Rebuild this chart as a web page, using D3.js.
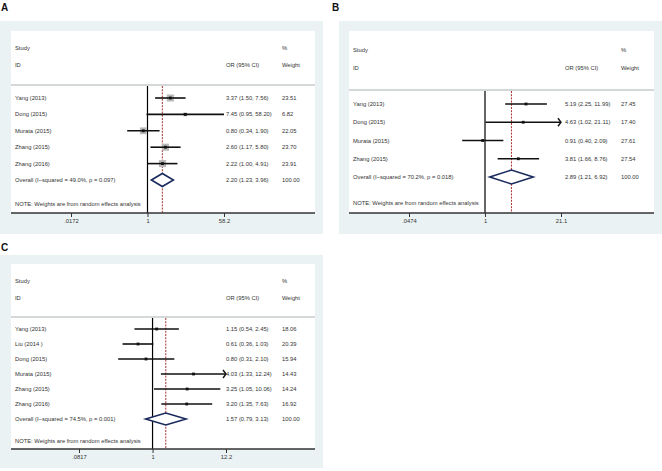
<!DOCTYPE html>
<html><head><meta charset="utf-8">
<script src="https://cdn.jsdelivr.net/npm/d3@7"></script>
<style>body{margin:0;background:#fff}svg{display:block}text{font-family:"Liberation Sans",Arial,sans-serif;fill:#333}</style>
</head><body><svg id="c" width="662" height="471"></svg>
<script>
// Panel A
const studiesA = ["Yang (2013)", "Dong (2015)", "Murata (2015)", "Zhang (2015)", "Zhang (2016)"];
const orA = [3.37, 7.45, 0.80, 2.60, 2.22];
const lowA = [1.50, 0.95, 0.34, 1.17, 1.00];
const highA = [7.56, 58.20, 1.90, 5.80, 4.91];
const weightA = [23.51, 6.82, 22.05, 23.70, 23.91];
const overallA = [2.20, 1.23, 3.96];
const hetA = "Overall  (I\u2212squared = 49.0%, p = 0.097)";
const ticksA = [0.0172, 1, 58.2];
const tickLabelsA = [".0172", "1", "58.2"];
// Panel B
const studiesB = ["Yang (2013)", "Dong (2015)", "Murata (2015)", "Zhang (2015)"];
const orB = [5.19, 4.63, 0.91, 3.81];
const lowB = [2.25, 1.02, 0.40, 1.66];
const highB = [11.99, 21.11, 2.09, 8.76];
const weightB = [27.45, 17.40, 27.61, 27.54];
const overallB = [2.89, 1.21, 6.92];
const hetB = "Overall  (I\u2212squared = 70.2%, p = 0.018)";
const ticksB = [0.0474, 1, 21.1];
const tickLabelsB = [".0474", "1", "21.1"];
// Panel C
const studiesC = ["Yang (2013)", "Liu  (2014 )", "Dong (2015)", "Murata (2015)", "Zhang (2015)", "Zhang (2016)"];
const orC = [1.15, 0.61, 0.80, 4.03, 3.25, 3.20];
const lowC = [0.54, 0.36, 0.31, 1.33, 1.05, 1.35];
const highC = [2.45, 1.03, 2.10, 12.24, 10.06, 7.63];
const weightC = [18.06, 20.39, 15.94, 14.43, 14.24, 16.92];
const overallC = [1.57, 0.79, 3.13];
const hetC = "Overall  (I\u2212squared = 74.5%, p = 0.001)";
const ticksC = [0.0817, 1, 12.2];
const tickLabelsC = [".0817", "1", "12.2"];

const svg = d3.select("#c");
const f2 = d3.format(".2f");
const FS = 5.8;

function panel(cfg) {
  const g = svg.append("g");
  const L = cfg.layout;
  g.append("text").attr("x", L.letterX).attr("y", L.letterY).text(cfg.letter)
    .style("font-size", "10px").style("font-weight", "bold").style("fill", "#111");
  g.append("rect").attr("x", L.bg[0]).attr("y", L.bg[1]).attr("width", L.bg[2]).attr("height", L.bg[3]).attr("fill", "#eaf2f3");
  g.append("rect").attr("x", L.wx0).attr("y", L.wy0).attr("width", L.wx1 - L.wx0).attr("height", L.axisY - L.wy0).attr("fill", "#fff");
  const x = d3.scaleLog().domain([cfg.ticks[0], cfg.ticks[2]]).range([L.x0, L.x1]);
  const n = cfg.studies.length;
  const y = d3.scalePoint().domain(d3.range(n + 1)).range([L.row0, L.row1]);
  const tx = L.wx0 + 4;
  const txt = (xx, yy, s) => g.append("text").attr("x", xx).attr("y", yy).attr("dy", "0.35em").text(s).style("font-size", FS + "px");
  txt(tx, L.studyY, "Study"); txt(tx, L.idY, "ID");
  txt(L.esX, L.idY, "OR (95% CI)");
  txt(L.wX, L.studyY, "%"); txt(L.wX, L.idY, "Weight");
  g.append("line").attr("x1", L.wx0).attr("x2", L.wx1).attr("y1", L.hdrY).attr("y2", L.hdrY).attr("stroke", "#d4d8d8").attr("stroke-width", 2);
  // null line
  g.append("line").attr("x1", x(1)).attr("x2", x(1)).attr("y1", L.hdrY + 1).attr("y2", L.axisY).attr("stroke", "#000").attr("stroke-width", 1.2);
  // overall dashed
  g.append("line").attr("x1", x(cfg.overall[0])).attr("x2", x(cfg.overall[0])).attr("y1", L.hdrY + 1).attr("y2", L.axisY)
    .attr("stroke", "#a01818").attr("stroke-width", 0.9).attr("stroke-dasharray", "2,1.2");
  const maxV = cfg.ticks[2], minV = cfg.ticks[0];
  cfg.studies.forEach((s, i) => {
    const yy = y(i);
    txt(tx, yy, s);
    txt(L.esX, yy, f2(cfg.or[i]) + " (" + f2(cfg.low[i]) + ", " + f2(cfg.high[i]) + ")");
    txt(L.wX, yy, f2(cfg.weight[i]));
    if (cfg.boxes) {
      const side = 1.45 * Math.sqrt(cfg.weight[i]);
      g.append("rect").attr("x", x(cfg.or[i]) - side / 2).attr("y", yy - side / 2).attr("width", side).attr("height", side).attr("fill", "#b8b8b8");
    }
    const hi = Math.min(cfg.high[i], maxV), lo = Math.max(cfg.low[i], minV);
    g.append("line").attr("x1", x(lo)).attr("x2", x(hi)).attr("y1", yy).attr("y2", yy).attr("stroke", "#111").attr("stroke-width", 1.6);
    if (cfg.high[i] > maxV * 1.0001) {
      const ax = x(maxV);
      g.append("path").attr("d", `M${ax - 3},${yy - 4}L${ax},${yy}L${ax - 3},${yy + 4}`).attr("fill", "none").attr("stroke", "#111").attr("stroke-width", 1.4);
    }
    g.append("rect").attr("x", x(cfg.or[i]) - 1.4).attr("y", yy - 1.4).attr("width", 2.8).attr("height", 2.8).attr("fill", "#111");
  });
  const yo = y(n);
  txt(tx, yo, cfg.het);
  txt(L.esX, yo, f2(cfg.overall[0]) + " (" + f2(cfg.overall[1]) + ", " + f2(cfg.overall[2]) + ")");
  txt(L.wX, yo, "100.00");
  const h = L.dh;
  g.append("path").attr("d", `M${x(cfg.overall[1])},${yo}L${x(cfg.overall[0])},${yo - h}L${x(cfg.overall[2])},${yo}L${x(cfg.overall[0])},${yo + h}Z`)
    .attr("fill", "#fff").attr("stroke", "#1a2a5c").attr("stroke-width", 1.6);
  txt(tx, L.noteY, "NOTE: Weights are from random effects analysis");
  // axis
  const ax = d3.axisBottom(x).tickValues(cfg.ticks).tickFormat((d, i) => cfg.tickLabels[i]).tickSize(4).tickPadding(2);
  const ag = g.append("g").attr("transform", `translate(0,${L.axisY})`).call(ax);
  ag.select(".domain").remove();
  ag.selectAll(".tick line").attr("stroke", "#333").attr("stroke-width", 1);
  ag.selectAll(".tick text").style("font-size", FS + "px").style("fill", "#333").style("font-family", '"Liberation Sans",Arial,sans-serif');
  g.append("line").attr("x1", L.wx0).attr("x2", L.wx1).attr("y1", L.axisY).attr("y2", L.axisY).attr("stroke", "#333").attr("stroke-width", 1.5);
}

panel({letter: "A", studies: studiesA, or: orA, low: lowA, high: highA, weight: weightA, overall: overallA, het: hetA, ticks: ticksA, tickLabels: tickLabelsA, boxes: true,
  layout: {letterX: 1, letterY: 11, bg: [0, 21, 323, 213], wx0: 11, wy0: 31, wx1: 315, axisY: 213, x0: 71, x1: 224, row0: 98, row1: 180,
    hdrY: 85, studyY: 48, idY: 65, noteY: 204, esX: 226, wX: 282, dh: 6.5}});
panel({letter: "B", studies: studiesB, or: orB, low: lowB, high: highB, weight: weightB, overall: overallB, het: hetB, ticks: ticksB, tickLabels: tickLabelsB, boxes: false,
  layout: {letterX: 332, letterY: 11, bg: [339, 21, 323, 213], wx0: 349, wy0: 31, wx1: 654, axisY: 213, x0: 409, x1: 561, row0: 104, row1: 177,
    hdrY: 90, studyY: 50, idY: 68, noteY: 203, esX: 565, wX: 621, dh: 7}});
panel({letter: "C", studies: studiesC, or: orC, low: lowC, high: highC, weight: weightC, overall: overallC, het: hetC, ticks: ticksC, tickLabels: tickLabelsC, boxes: false,
  layout: {letterX: 1, letterY: 251, bg: [0, 255, 323, 213], wx0: 11, wy0: 264, wx1: 315, axisY: 449, x0: 79, x1: 226, row0: 329, row1: 419,
    hdrY: 317, studyY: 281, idY: 298, noteY: 441, esX: 226, wX: 282, dh: 6}});
</script></body></html>
